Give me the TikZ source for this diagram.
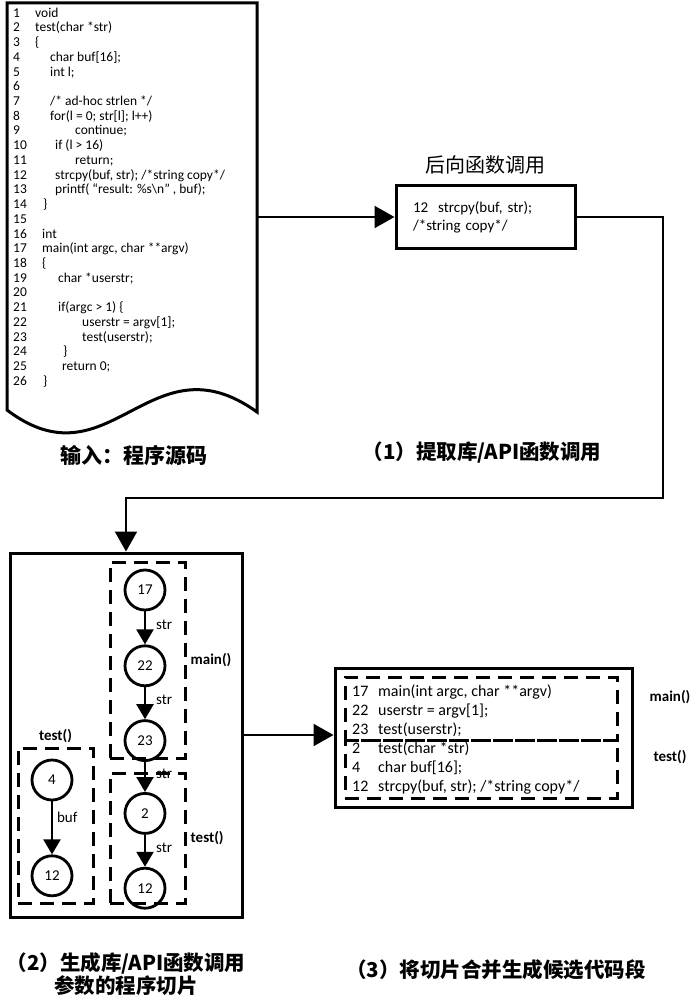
\documentclass[tikz,border=0pt]{standalone}
\usepackage{fontspec}
\setmainfont{Carlito}
\newfontfamily\cjk{Noto Sans CJK SC}
\usetikzlibrary{arrows.meta, positioning}
\newcommand{\ind}[1]{\hspace*{#1pt}}
\tikzset{
    x=1pt, y=-1pt, % one unit is one pixel of the sketch, y grows downwards
    every node/.style={inner sep=0pt},
    box/.style={draw, line width=3pt}, % solid frames
    dashbox/.style={draw, line width=3pt, dash pattern=on 14pt off 8pt}, % function frames
    vertex/.style={circle, draw, line width=2.8pt, minimum size=40pt, font=\fontsize{15}{17}\selectfont},
    flow/.style={line width=2.2pt, -{Triangle[width=22pt,length=20pt]}}, % big arrows between steps
    dep/.style={line width=2.2pt, -{Triangle[width=17pt,length=15pt]}}, % data dependence
    caption/.style={font=\cjk\bfseries\fontsize{20.5}{23}\selectfont, align=center},
    fname/.style={font=\bfseries\fontsize{15}{17}\selectfont},
    lbl/.style={font=\fontsize{15}{17}\selectfont},
}
\begin{document}
\begin{tikzpicture}
\useasboundingbox (0,0) rectangle (689,1000);
% input program
\draw[box] (7,3) -- (257,3) -- (257,412) .. controls (150,335) and (110,488) .. (7,410) -- cycle;
\node[anchor=north west, font=\fontsize{13.5}{14.72}\selectfont] (src) at (13,6.7) {%
\begin{tabular}{@{}p{22pt}@{}l@{}}
1 & void\\
2 & test(char *str)\\
3 & \{\\
4 & \ind{15}char buf[16];\\
5 & \ind{15}int l;\\
6 & \\
7 & \ind{15}/* ad-hoc strlen */\\
8 & \ind{15}for(l = 0; str[l]; l++)\\
9 & \ind{40}continue;\\
10 & \ind{20}if (l > 16)\\
11 & \ind{40}return;\\
12 & \ind{20}strcpy(buf, str); /*string copy*/\\
13 & \ind{20}printf( “result: \%s\textbackslash n” , buf);\\
14 & \ind{8}\}\\
15 & \\
16 & \ind{7}int\\
17 & \ind{7}main(int argc, char **argv)\\
18 & \ind{7}\{\\
19 & \ind{23}char *userstr;\\
20 & \\
21 & \ind{23}if(argc > 1) \{\\
22 & \ind{47}userstr = argv[1];\\
23 & \ind{47}test(userstr);\\
24 & \ind{28}\}\\
25 & \ind{27}return 0;\\
26 & \ind{8}\}
\end{tabular}};
\coordinate (srcR) at (257,217);
\node[font=\cjk\bfseries\fontsize{21}{25}\selectfont] (srclbl) at (134,455) {输入：程序源码};
% step 1
\node[box, inner xsep=17pt, text width=145pt, minimum height=62pt, align=left, font=\fontsize{15}{18}\selectfont] (bwd) at (485.5,217) {12\ \ strcpy(buf, str);\\/*string copy*/};
\node[font=\cjk\fontsize{20}{24}\selectfont, above=10pt of bwd] (bwdlbl) {后向函数调用};
\draw[flow] (srcR) -- (bwd);
\node[caption] (step1) at (482,453) {（1）提取库/API函数调用};
% step 2
\node[box, minimum width=232pt, minimum height=364pt] (slice) at (126,735) {};
\coordinate (bend) at (663,498);
\draw[flow] (bwd.east) -| (bend) -| (slice.north);
\node[dashbox, minimum width=75pt, minimum height=196pt] (mainbox) at (147.5,660) {};
\node[dashbox, minimum width=75pt, minimum height=130pt] (testR) at (147.5,838) {};
\node[dashbox, minimum width=75pt, minimum height=155pt] (testL) at (55.5,825.5) {};
\node[fname, right=4pt of mainbox] (mainlbl) {main()};
\node[fname, right=4pt of testR] (testRlbl) {test()};
\node[fname, above=4pt of testL] (testLlbl) {test()};
\node[vertex] (m17) at (145,590) {17};
\node[vertex, below=33pt of m17] (m22) {22};
\node[vertex, below=32pt of m22] (m23) {23};
\node[vertex, below=30pt of m23] (t2) {2};
\node[vertex, below=32pt of t2] (t12) {12};
\node[vertex] (l4) at (52,780) {4};
\node[vertex, below=53pt of l4] (l12) {12};
\draw[dep] (m17) -- node[lbl, right=10pt, pos=0.4] {str} (m22);
\draw[dep] (m22) -- node[lbl, right=10pt, pos=0.4] {str} (m23);
\draw[dep] (m23) -- node[lbl, right=10pt, pos=0.4] {str} (t2);
\draw[dep] (t2) -- node[lbl, right=10pt, pos=0.4] {str} (t12);
\draw[dep] (l4) -- node[lbl, right=4pt, pos=0.3] {buf} (l12);
\node[caption] (step2) at (126,974) {（2）生成库/API函数调用\\参数的程序切片};
% step 3
\node[box, minimum width=297pt, minimum height=139pt] (merged) at (483.5,737.5) {};
\draw[flow] (slice.east) -- (merged.west |- slice.east);
\node[dashbox, minimum width=272pt, minimum height=63pt] (mainpart) at (481,708.5) {};
\node[dashbox, minimum width=272pt, minimum height=58pt] (testpart) at (481,769) {};
\node[anchor=north west, font=\fontsize{16}{19}\selectfont] (cand) at (352,682.5) {%
\begin{tabular}{@{}p{26pt}@{}l@{}}
17 & main(int argc, char **argv)\\
22 & userstr = argv[1];\\
23 & test(userstr);\\
2 & test(char *str)\\
4 & char buf[16];\\
12 & strcpy(buf, str); /*string copy*/
\end{tabular}};
\node[fname] (mainlbl2) at (670,697) {main()};
\node[fname] (testlbl2) at (670,757) {test()};
\node[caption] (step3) at (496,970) {（3）将切片合并生成候选代码段};
\end{tikzpicture}
\end{document}
